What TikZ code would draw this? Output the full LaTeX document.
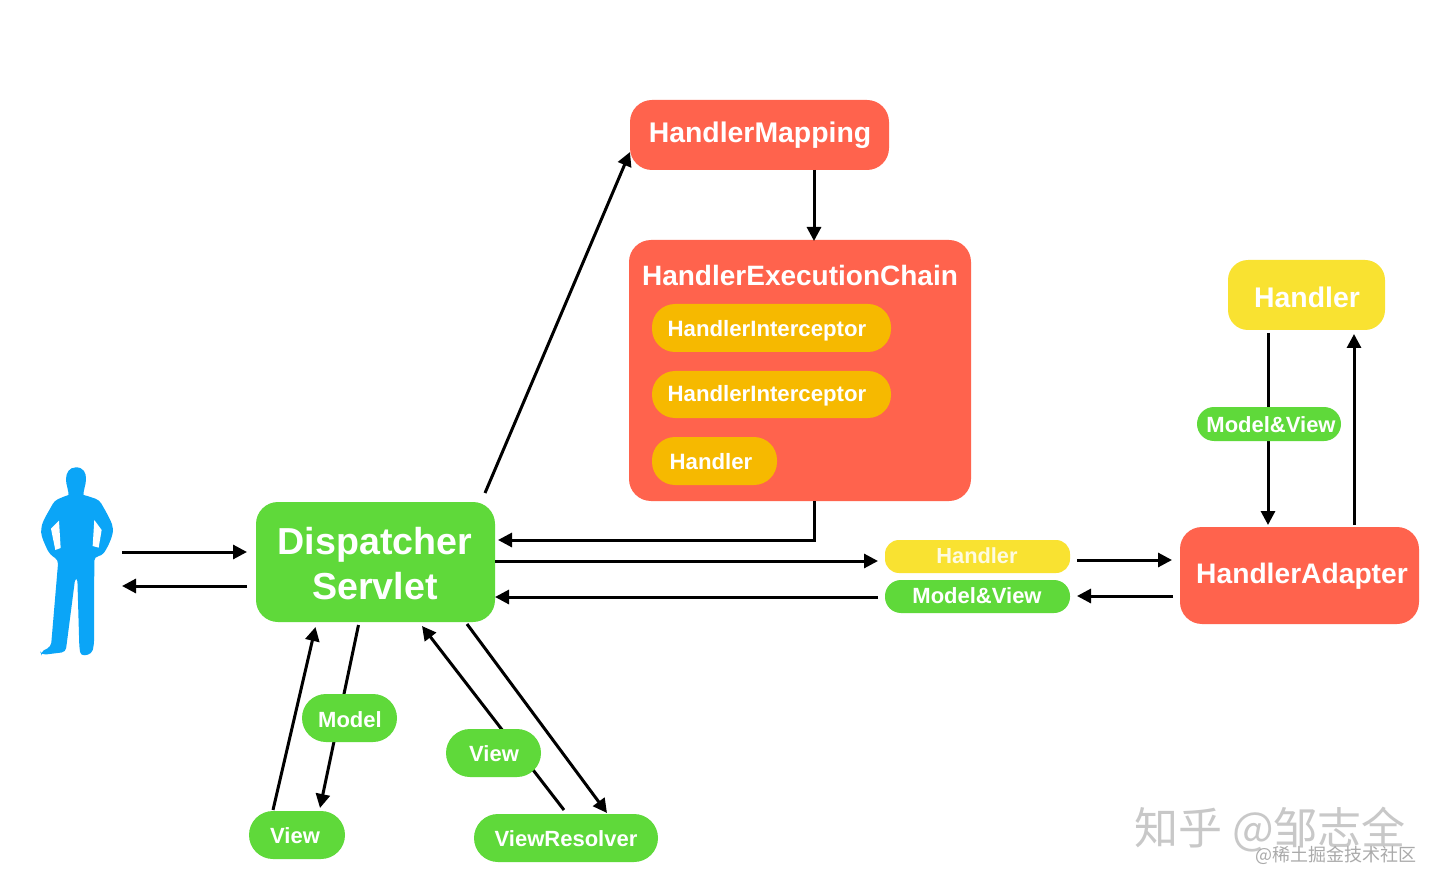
\documentclass[tikz,border=0pt]{standalone}
\usepackage{fontspec}
\setmainfont{Liberation Sans}
\newfontfamily\cjk{Noto Sans CJK SC}
\usetikzlibrary{arrows.meta,calc}
\definecolor{cred}{HTML}{FF634D}
\definecolor{cgreen}{HTML}{5FD93A}
\definecolor{camber}{HTML}{F6B900}
\definecolor{cyellow}{HTML}{F9E231}
\definecolor{cblue}{HTML}{0BA5F7}
\definecolor{cmark}{HTML}{C8C8C8}
\newcommand{\fsz}[1]{\fontsize{#1pt}{#1pt}\selectfont\bfseries}
\tikzset{
  x=1pt,y=-1pt,
  box/.style={inner sep=0pt,outer sep=0pt,text=white,align=center},
  redbox/.style={box,fill=cred,rounded corners=22pt},
  pillgreen/.style={box,fill=cgreen,rounded corners=16pt},
  pillamber/.style={box,fill=camber,rounded corners=23pt},
  label/.style={inner sep=0pt,outer sep=0pt,text=white,anchor=center},
  arr/.style={line width=3pt,draw=black,-{Triangle[length=14pt,width=14pt]}},
}
\newcommand{\bx}[7]{% name, style, x0, y0, x1, y1, text
  \node[#2,minimum width={(#5-#3)*1pt},minimum height={(#6-#4)*1pt}] (#1) at ({(#3+#5)/2},{(#4+#6)/2}) {#7};}
\begin{document}
\begin{tikzpicture}
\useasboundingbox[fill=white] (0,0) rectangle (1440,890);

\bx{hm}{redbox}{630}{100}{889}{170}{}
\bx{hec}{redbox}{629}{240}{971}{501}{}
\bx{hia}{pillamber}{652}{304}{891}{352}{}
\bx{hib}{pillamber}{652}{371}{891}{418}{}
\bx{hc}{pillamber}{652}{437}{777}{485}{}
\bx{ds}{redbox,fill=cgreen}{256}{502}{495}{622}{}
\bx{ha}{redbox}{1180}{527}{1419}{624}{}
\bx{hy}{box,fill=cyellow,rounded corners=20pt}{1228}{260}{1385}{330}{}
\bx{hs}{box,fill=cyellow,rounded corners=14pt}{885}{540}{1070}{573}{}
\bx{ms}{pillgreen}{885}{580}{1070}{613}{}

\coordinate (user) at (76,560);
\node[label,font=\fsz{28.4}] at (760,135) {HandlerMapping};
\node[label,font=\fsz{28}] at (800,275) {HandlerExecutionChain};
\node[label,font=\fsz{22.2}] at (767,331) {HandlerInterceptor};
\node[label,font=\fsz{22.2}] at (767,396) {HandlerInterceptor};
\node[label,font=\fsz{22.2}] at (711,462) {Handler};
\node[label,font=\fsz{37.6},align=center] at (375,563.5) {Dispatcher\\[8pt]Servlet};
\node[label,font=\fsz{28.2}] at (1302,576) {HandlerAdapter};
\node[label,font=\fsz{28.4}] at (1307,297) {Handler};
\node[label,font=\fsz{21.8},text=white!85!cyellow] at (977,556) {Handler};
\node[label,font=\fsz{22}] at (977,596) {Model\&View};

% person
\begin{scope}[yshift=-450pt,x=0.3333pt,y=-0.3333pt]
\fill[cblue] (228,52) .. controls (250,52) and (259,68) .. (258,88)
  .. controls (258,105) and (250,118) .. (250,140)
  -- (206,140) .. controls (206,118) and (198,105) .. (198,88)
  .. controls (198,68) and (208,52) .. (228,52) -- cycle;
\fill[cblue,rounded corners=4pt] (228,132)
  -- (250,134) -- (298,150) .. controls (312,175) and (330,205) .. (340,235)
  .. controls (335,270) and (318,300) .. (305,318)
  -- (283,320) -- (282,585) -- (275,612) -- (242,618) -- (238,590) -- (232,382) -- (226,382)
  -- (197,606) -- (125,615) -- (121,606) -- (153,590) -- (175,330)
  -- (150,314) .. controls (135,285) and (124,260) .. (123,235)
  .. controls (132,205) and (150,178) .. (163,152)
  -- (206,134) -- cycle;
\fill[white] (177,212) -- (153,236) -- (166,300) -- (182,294) -- cycle;
\fill[white] (283,210) -- (305,240) -- (296,293) -- (278,288) -- cycle;
\end{scope}

% arrows
\draw[arr] ($(user)+(46,-8)$) -- ($(ds.west)+(-9,-10)$);
\draw[arr] ($(ds.west)+(-9,24)$) -- ($(user)+(46,26)$);
\draw[arr] ($(ds.north east)+(-10,-9)$) -- ($(hm.west)+(0,17)$);
\draw[arr] ($(hm.south)+(54.5,0)$) -- ($(hec.north)+(14,1)$);
\draw[arr] ($(hec.south)+(14,0)$) -- ++(0,39) -- ($(ds.east)+(3,-22)$);
\draw[arr] ($(ds.east)+(0,-1)$) -- ($(hs.west)+(-7,4.5)$);
\draw[arr] ($(ms.west)+(-7,0.5)$) -- ($(ds.east)+(0,35)$);
\draw[arr] ($(hs.east)+(7,3.5)$) -- ($(ha.west)+(-8,-15.5)$);
\draw[arr] ($(ha.west)+(-7,20.5)$) -- ($(ms.east)+(7,-0.5)$);

\draw[arr] ($(hy.south)+(-38.5,3)$) -- ($(ha.north)+(-31.5,-2)$);
\draw[arr] ($(ha.north)+(54.5,-2)$) -- ($(hy.south)+(47.5,4)$);
\bx{mv}{pillgreen,rounded corners=17pt}{1197}{407}{1341}{441}{}
\node[label,font=\fsz{22}] at (1271,425) {Model\&View};

\bx{vb}{pillgreen,rounded corners=24pt}{249}{811}{345}{859}{}
\node[label,font=\fsz{22}] at (295,836) {View};
\bx{vr}{pillgreen,rounded corners=24pt}{474}{814}{658}{862}{}
\node[label,font=\fsz{22}] at (566,839) {ViewResolver};

\draw[arr] ($(vb.north)+(-24,-1)$) -- ($(ds.south)+(-60,5)$);
\draw[arr] ($(ds.south)+(-17,3)$) -- ($(vb.north)+(23,-3)$);
\draw[arr] ($(vr.north)+(-2,-4)$) -- ($(ds.south)+(46.5,4)$);
\draw[arr] ($(ds.south)+(91.5,2)$) -- ($(vr.north)+(41,-1)$);

\bx{mo}{pillgreen,rounded corners=24pt}{302}{694}{397}{742}{}
\node[label,font=\fsz{22}] at (350,720) {Model};
\bx{vm}{pillgreen,rounded corners=24pt}{446}{729}{541}{777}{}
\node[label,font=\fsz{22}] at (494,754) {View};

% watermark
\node[inner sep=0pt,text=cmark,anchor=center,font={\cjk\fontsize{44pt}{44pt}\selectfont}] at (1270,830) {知乎 @邹志全};
\node[inner sep=0pt,text=cmark!85!black,anchor=center,font={\cjk\fontsize{18pt}{18pt}\selectfont}] at (1335.5,855) {@稀土掘金技术社区};
\end{tikzpicture}
\end{document}
